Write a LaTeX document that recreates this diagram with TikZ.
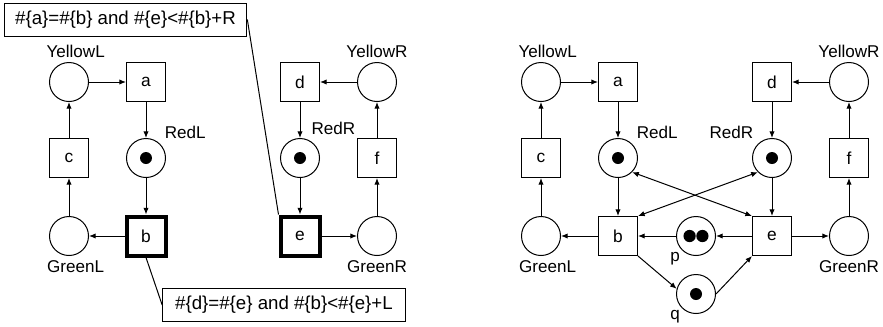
\documentclass[tikz,border=0pt]{standalone}
\usepackage{fontspec}
\setmainfont{Liberation Sans}
\usetikzlibrary{arrows.meta,positioning}

\tikzset{
  place/.style={circle, draw, minimum size=29.25pt, inner sep=0pt, line width=0.75pt},
  trans/.style={rectangle, draw, minimum size=29.25pt, inner sep=0pt, line width=0.75pt, font=\fontsize{13}{15}\selectfont},
  tok/.style={path picture={\fill (path picture bounding box.center) circle (4.5pt);}},
  twotok/.style={path picture={
    \fill ([xshift=-4.8pt]path picture bounding box.center) circle (4.6pt)
          ([xshift=4.8pt]path picture bounding box.center) circle (4.6pt);}},
  arc/.style={-{Latex[length=5pt,width=4pt]}, line width=0.75pt},
  biarc/.style={{Latex[length=5pt,width=4pt]}-{Latex[length=5pt,width=4pt]}, line width=0.75pt},
  note/.style={draw, line width=0.75pt, font=\fontsize{14}{16}\selectfont, minimum width=182pt, minimum height=24.75pt},
  every label/.style={font=\fontsize{12.8}{15}\selectfont}
}

\begin{document}
\begin{tikzpicture}[x=0.75pt, y=-0.75pt]
    \useasboundingbox (0,0) rectangle (883,326);

    % Both nets share the same ring of places and transitions
    \foreach \dx/\n/\w/\rr in {0/1/3pt/70, 472/2/0.75pt/135} {
        \node[place, label={[xshift=5pt]above:YellowL}] (YellowL\n) at (\dx+69,82) {};
        \node[trans] (a\n) at (\dx+146,82) {a};
        \node[place, tok, label=45:RedL] (RedL\n) at (\dx+146,158) {};
        \node[trans] (c\n) at (\dx+69,158) {c};
        \node[trans, line width=\w] (b\n) at (\dx+146,236) {b};
        \node[place, label={[xshift=5pt]below:GreenL}] (GreenL\n) at (\dx+69,236) {};
        \node[trans] (d\n) at (\dx+300,82) {d};
        \node[place, label=above:YellowR] (YellowR\n) at (\dx+377,82) {};
        \node[place, tok, label=\rr:RedR] (RedR\n) at (\dx+300,158) {};
        \node[trans] (f\n) at (\dx+377,158) {f};
        \node[trans, line width=\w] (e\n) at (\dx+300,236) {e};
        \node[place, label=below:GreenR] (GreenR\n) at (\dx+377,236) {};

        \draw[arc] (YellowL\n) -- (a\n);
        \draw[arc] (a\n) -- (RedL\n);
        \draw[arc] (RedL\n) -- (b\n);
        \draw[arc] (b\n) -- (GreenL\n);
        \draw[arc] (GreenL\n) -- (c\n);
        \draw[arc] (c\n) -- (YellowL\n);
        \draw[arc] (YellowR\n) -- (d\n);
        \draw[arc] (d\n) -- (RedR\n);
        \draw[arc] (RedR\n) -- (e\n);
        \draw[arc] (e\n) -- (GreenR\n);
        \draw[arc] (GreenR\n) -- (f\n);
        \draw[arc] (f\n) -- (YellowR\n);
    }

    % Guards of the left net
    \node[note] (guardR) at (125.5,19.5) {\#\{a\}=\#\{b\} and \#\{e\}<\#\{b\}+R};
    \node[note] (guardL) at (284,305) {\#\{d\}=\#\{e\} and \#\{b\}<\#\{e\}+L};
    \draw[line width=0.75pt] (guardR.east) -- (e1.north west);
    \draw[line width=0.75pt] (b1.south) -- (guardL.west);

    % Extra places of the right net
    \node[place, twotok, label={[label distance=-3pt]below left:p}] (p) at (696,236) {};
    \node[place, tok, label={[label distance=-3pt]below left:q}] (q) at (696,294) {};
    \draw[arc] (e2) -- (p);
    \draw[arc] (p) -- (b2);
    \draw[arc] (b2.south east) -- (q.165);
    \draw[arc] (q.east) -- (e2.south west);
    \draw[biarc] (RedL2.south east) -- (e2.north west);
    \draw[biarc] (RedR2.south west) -- (b2.north east);
\end{tikzpicture}
\end{document}
